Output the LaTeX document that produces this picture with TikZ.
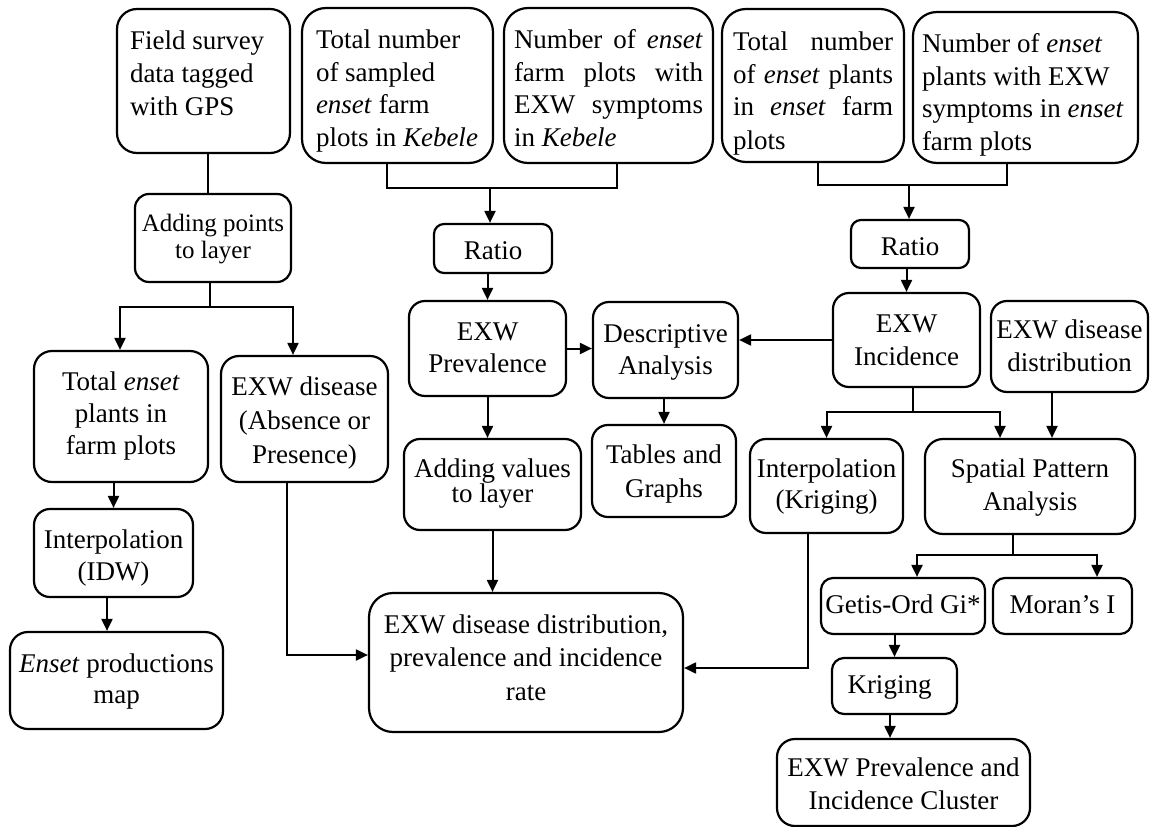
\documentclass[tikz,border=0pt]{standalone}
\usepackage{fontspec}
\setmainfont{Liberation Serif}
\usetikzlibrary{arrows.meta}
\newcommand{\cntxt}[2]{\parbox[t]{#1}{\centering #2}}
\newcommand{\lftxt}[2]{\parbox[t]{#1}{\raggedright #2}}
\newcommand{\jl}[1]{\makebox[\linewidth][s]{#1}}
\tikzset{
  bx/.style n args={4}{draw, line width=2.2pt, rounded corners=#4, minimum width=#1,
    inner sep=0pt, text height=#2, text depth=#3, font=\fontsize{27pt}{33pt}\selectfont},
  ln/.style={line width=2pt},
  arr/.style={line width=2pt, -{Triangle[length=12pt,width=11pt]}},
}
\begin{document}
\begin{tikzpicture}[x=1pt,y=-1pt]
\useasboundingbox (0,0) rectangle (1152,827);
% top row
\node[bx={173pt}{40pt}{104pt}{20pt}] (fs) at (203.5,81) {\lftxt{147pt}{Field survey\\data tagged\\with GPS}};
\node[bx={191pt}{40pt}{115pt}{24pt}] (tn) at (397.5,85.5) {\lftxt{163pt}{Total number\\of sampled\\\emph{enset} farm\\plots in \emph{Kebele}}};
\node[bx={209pt}{40pt}{115pt}{24pt}] (nf) at (608.5,85.5) {\lftxt{189pt}{\jl{Number of \emph{enset}}\\\jl{farm plots with}\\\jl{EXW symptoms}\\in \emph{Kebele}}};
\node[bx={182pt}{41pt}{112pt}{24pt}] (tp) at (813,85.5) {\lftxt{160pt}{\jl{Total number}\\\jl{of \emph{enset} plants}\\\jl{in \emph{enset} farm}\\plots}};
\node[bx={225pt}{40pt}{111pt}{24pt}] (np) at (1025.5,87.5) {\lftxt{207pt}{Number of \emph{enset}\\plants with EXW\\symptoms in \emph{enset}\\farm plots}};
% second level
\node[bx={156pt}{37pt}{51pt}{14pt}, font=\fontsize{25pt}{27pt}\selectfont] (ap) at (213,238) {\cntxt{156pt}{Adding points\\to layer}};
\node[bx={118pt}{35pt}{14pt}{10pt}] (r1) at (493,248.5) {\cntxt{118pt}{Ratio}};
\node[bx={118pt}{35pt}{13pt}{10pt}] (r2) at (910,244) {\cntxt{118pt}{Ratio}};
\node[bx={157pt}{39pt}{56pt}{16pt}, font=\fontsize{27pt}{32pt}\selectfont] (pv) at (487.5,348.5) {\cntxt{157pt}{EXW\\Prevalence}};
\node[bx={145pt}{40pt}{56pt}{16pt}, font=\fontsize{27pt}{32pt}\selectfont] (da) at (665.5,350) {\cntxt{145pt}{Descriptive\\Analysis}};
\node[bx={147pt}{39pt}{55pt}{16pt}] (inc) at (906.5,340) {\cntxt{147pt}{EXW\\Incidence}};
\node[bx={157pt}{37pt}{54pt}{16pt}] (dd) at (1069.5,346.5) {\cntxt{157pt}{EXW disease\\distribution}};
\node[bx={174pt}{39pt}{92pt}{18pt}, font=\fontsize{27pt}{32pt}\selectfont] (te) at (121,416.5) {\cntxt{174pt}{Total \emph{enset}\\plants in\\farm plots}};
\node[bx={167pt}{39pt}{87pt}{18pt}, font=\fontsize{27pt}{34pt}\selectfont] (ea) at (304.5,419) {\cntxt{167pt}{EXW disease\\(Absence or\\Presence)}};
\node[bx={159pt}{39pt}{49pt}{16pt}, font=\fontsize{27pt}{32pt}\selectfont] (idw) at (113.5,553) {\cntxt{159pt}{Interpolation\\(IDW)}};
\node[bx={213pt}{40pt}{57pt}{18pt}, font=\fontsize{27pt}{31pt}\selectfont] (em) at (116.5,680.5) {\cntxt{213pt}{\emph{Enset} productions\\map}};
\node[bx={177pt}{38pt}{53pt}{16pt}, font=\fontsize{27pt}{25pt}\selectfont] (av) at (492.5,484.5) {\cntxt{177pt}{Adding values\\to layer}};
\node[bx={144pt}{38pt}{54pt}{16pt}, font=\fontsize{27pt}{34pt}\selectfont] (tg) at (664,471) {\cntxt{144pt}{Tables and\\Graphs}};
\node[bx={153pt}{38pt}{56pt}{16pt}, font=\fontsize{27pt}{31pt}\selectfont] (ik) at (826.5,486) {\cntxt{153pt}{Interpolation\\(Kriging)}};
\node[bx={210pt}{38pt}{57pt}{18pt}] (sp) at (1030,486.5) {\cntxt{210pt}{Spatial Pattern\\Analysis}};
\node[bx={164pt}{35pt}{21pt}{12pt}] (go) at (903,606) {\cntxt{164pt}{Getis-Ord Gi*}};
\node[bx={139pt}{35pt}{21pt}{12pt}] (mi) at (1062.5,606) {\cntxt{139pt}{Moran’s I}};
\node[bx={125pt}{35pt}{21pt}{12pt}] (kr) at (894.5,686) {\cntxt{125pt}{Kriging\hspace*{10pt}}};
\node[bx={253pt}{37pt}{50pt}{18pt}] (cl) at (903.5,782.5) {\cntxt{253pt}{EXW Prevalence and\\Incidence Cluster}};
\node[bx={314pt}{40pt}{99pt}{24pt}, font=\fontsize{27pt}{33.5pt}\selectfont] (fin) at (526,662.5) {\cntxt{314pt}{EXW disease distribution,\\prevalence and incidence\\rate}};
% junctions
\coordinate (j1) at (210,307);
\coordinate (j2) at (490,188);
\coordinate (j3) at (909,185);
\coordinate (j4) at (913,412);
\coordinate (j5) at (1013,555);
% connectors
\draw[ln] ([xshift=4.5pt]fs.south) -- ([xshift=-5pt]ap.north);
\draw[ln] (ap.south -| j1) -- (j1);
\draw[arr] (j1) -| ([xshift=-1pt]te.north);
\draw[arr] (j1) -| ([xshift=-11.5pt]ea.north);
\draw[ln] ([xshift=-10.5pt]tn.south) |- (j2) -| ([xshift=8.5pt]nf.south);
\draw[arr] (j2) -- (j2 |- r1.north);
\draw[ln] ([xshift=5pt]tp.south) |- (j3) -| ([xshift=-18.5pt]np.south);
\draw[arr] (j3) -- (j3 |- r2.north);
\draw[arr] (r1.south -| pv.north) -- (pv.north);
\draw[arr] (r2.south -| inc.north) -- (inc.north);
\draw[arr] (pv.east) -- (pv.east -| da.west);
\draw[arr] (inc.west) -- (inc.west -| da.east);
\draw[arr] (pv.south) -- (pv.south |- av.north);
\draw[arr] (av.south) -- (av.south |- fin.north);
\draw[arr] (tg.north |- da.south) -- (tg.north);
\draw[ln] (inc.south -| j4) -- (j4);
\draw[arr] (j4) -| (ik.north);
\draw[arr] (j4) -| ([xshift=-30pt]sp.north);
\draw[arr] ([xshift=-17.5pt]dd.south) -- ([xshift=-17.5pt]dd.south |- sp.north);
\draw[ln] (sp.south -| j5) -- (j5);
\draw[arr] (j5) -| ([xshift=14pt]go.north);
\draw[arr] (j5) -| ([xshift=34.5pt]mi.north);
\draw[arr] (kr.north |- go.south) -- (kr.north);
\draw[arr] ([xshift=-4.5pt]kr.south) -- ([xshift=-4.5pt]kr.south |- cl.north);
\draw[arr] (te.south -| idw.north) -- (idw.north);
\draw[arr] ([xshift=-6.5pt]idw.south) -- ([xshift=-6.5pt]idw.south |- em.north);
\draw[arr] ([xshift=-17.5pt]ea.south) |- ([yshift=7.5pt]fin.west);
\draw[arr] ([xshift=-18.5pt]ik.south) |- ([yshift=-5.5pt]fin.east);
\end{tikzpicture}
\end{document}
